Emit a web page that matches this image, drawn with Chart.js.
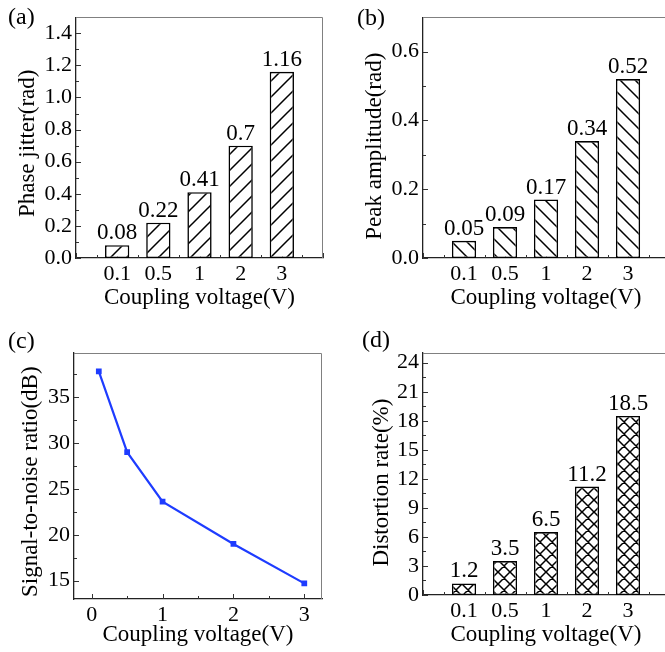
<!DOCTYPE html>
<html>
<head>
<meta charset="utf-8">
<script src="https://cdn.jsdelivr.net/npm/chart.js@4.4.0/dist/chart.umd.min.js"></script>
<style>
  html, body { margin: 0; padding: 0; background: #fff; overflow: hidden; }
  body { width: 665px; height: 652px; position: relative; }
  canvas { position: absolute; }
</style>
</head>
<body>
<canvas id="chartA" width="335" height="320" style="left:0;top:0"></canvas>
<canvas id="chartB" width="345" height="320" style="left:330px;top:0"></canvas>
<canvas id="chartC" width="335" height="332" style="left:0;top:320px"></canvas>
<canvas id="chartD" width="345" height="332" style="left:330px;top:320px"></canvas>
<script>
// Values
const voltageLabels = ['0.1', '0.5', '1', '2', '3'];
const voltageValues = [0.1, 0.5, 1, 2, 3];
const phaseJitter = [0.08, 0.22, 0.41, 0.7, 1.16];
const peakAmplitude = [0.05, 0.09, 0.17, 0.34, 0.52];
const snrValues = [37.8, 29.0, 23.6, 19.0, 14.7];
const distortionRate = [1.2, 3.5, 6.5, 11.2, 18.5];

const SERIF = '"Liberation Serif", "Times New Roman", serif';
Chart.defaults.font.family = SERIF;
Chart.defaults.color = '#000';
Chart.defaults.animation = false;

// Inward major/minor ticks + grey frame on top/right + panel letter
const frameTicks = {
  id: 'frameTicks',
  beforeDatasetsDraw(chart) {
    const { ctx, chartArea: a, scales: { x, y } } = chart;
    ctx.save();
    ctx.strokeStyle = '#333';
    ctx.lineWidth = 1;
    ctx.beginPath();
    [[x, true], [y, false]].forEach(([scale, horiz]) => {
      const major = scale.ticks.map(t => t.value);
      const half = (major[1] - major[0]) / 2;
      const marks = major.map(v => [v, 5])
        .concat(major.map(v => [v + half, 3]), [[major[0] - half, 3]]);
      marks.forEach(([v, len]) => {
        if (v < scale.min - 1e-9 || v > scale.max + 1e-9) return;
        const p = Math.round(scale.getPixelForValue(v)) + 0.5;
        if (horiz) { ctx.moveTo(p, a.bottom); ctx.lineTo(p, a.bottom - len); }
        else { ctx.moveTo(a.left, p); ctx.lineTo(a.left + len, p); }
      });
    });
    ctx.stroke();
    ctx.restore();
  },
  afterDraw(chart, args, opts) {
    const { ctx, chartArea: a } = chart;
    ctx.save();
    ctx.strokeStyle = '#808080';
    ctx.lineWidth = 1;
    ctx.beginPath();
    ctx.moveTo(a.left, Math.round(a.top) + 0.5);
    ctx.lineTo(Math.round(a.right) - 0.5, Math.round(a.top) + 0.5);
    ctx.lineTo(Math.round(a.right) - 0.5, a.bottom);
    ctx.stroke();
    if (opts.label) {
      ctx.font = '24px ' + SERIF;
      ctx.fillStyle = '#000';
      ctx.textAlign = 'left';
      ctx.textBaseline = 'alphabetic';
      ctx.fillText(opts.label, opts.labelX, opts.labelY);
    }
    ctx.restore();
  }
};

// Numbers above bars
const barValues = {
  id: 'barValues',
  defaults: { show: false },
  afterDatasetsDraw(chart, args, opts) {
    if (!opts.show) return;
    const { ctx } = chart;
    const meta = chart.getDatasetMeta(0);
    const data = chart.data.datasets[0].data;
    ctx.save();
    ctx.font = '23px ' + SERIF;
    ctx.fillStyle = '#000';
    ctx.textAlign = 'center';
    ctx.textBaseline = 'alphabetic';
    meta.data.forEach((bar, i) => ctx.fillText(String(data[i].y), bar.x, bar.y - 6));
    ctx.restore();
  }
};

Chart.register(frameTicks, barValues);

function hatch(canvas, size, kind) {
  const c = document.createElement('canvas');
  c.width = c.height = size;
  const g = c.getContext('2d');
  g.fillStyle = '#fff';
  g.fillRect(0, 0, size, size);
  g.strokeStyle = '#000';
  g.lineWidth = 1.5;
  g.beginPath();
  if (kind === '/' || kind === 'x') {
    g.moveTo(-1, size + 1); g.lineTo(size + 1, -1);
    g.moveTo(-2, 2); g.lineTo(2, -2);
    g.moveTo(size - 2, size + 2); g.lineTo(size + 2, size - 2);
  }
  if (kind === '\\' || kind === 'x') {
    g.moveTo(-1, -1); g.lineTo(size + 1, size + 1);
    g.moveTo(-2, size - 2); g.lineTo(2, size + 2);
    g.moveTo(size - 2, -2); g.lineTo(size + 2, 2);
  }
  g.stroke();
  return canvas.getContext('2d').createPattern(c, 'repeat');
}

// trailing no-break spaces nudge the rotated titles down a little, like the original
function axisTitle(text, pad, nudge = 0) {
  return { display: true, text: text + '\u00a0'.repeat(nudge), font: { size: 23 }, padding: pad };
}

function barPanel(id, values, kind, tile, yAxis, box, label) {
  const canvas = document.getElementById(id);
  return new Chart(canvas, {
    type: 'bar',
    data: {
      datasets: [{
        data: values.map((v, i) => ({ x: i + 1, y: v })),
        backgroundColor: hatch(canvas, tile, kind),
        borderColor: '#000',
        borderWidth: 1.6,
        borderSkipped: false,
        barPercentage: 0.59,
        categoryPercentage: 1
      }]
    },
    options: {
      responsive: false,
      events: [],
      layout: { padding: { top: box.top, right: box.right, left: 0, bottom: 0 } },
      plugins: {
        legend: { display: false },
        tooltip: { enabled: false },
        barValues: { show: true },
        frameTicks: label
      },
      scales: {
        x: {
          type: 'linear', min: 0, max: 6, offset: false,
          grid: { display: false, drawTicks: false },
          border: { color: '#222', width: 1.3 },
          ticks: {
            stepSize: 1, padding: 3, maxRotation: 0, autoSkip: false,
            font: { size: 22 },
            callback: v => voltageLabels[v - 1] ?? ''
          },
          title: axisTitle('Coupling voltage(V)', { top: 0, bottom: box.xt }),
          afterFit: s => { s.height = box.xh; }
        },
        y: {
          min: 0, max: yAxis.max,
          grid: { display: false, drawTicks: false },
          border: { color: '#222', width: 1.3 },
          ticks: {
            stepSize: yAxis.step, includeBounds: false, padding: 4,
            font: { size: 22 },
            callback: yAxis.fmt
          },
          title: axisTitle(yAxis.title, { top: box.yt, bottom: 0 }, box.nudge),
          afterFit: s => { s.width = box.yw; }
        }
      }
    }
  });
}

barPanel('chartA', phaseJitter, '/', 16,
  { max: 1.5, step: 0.2, fmt: v => v.toFixed(1), title: 'Phase jitter(rad)' },
  { top: 15, right: 12, xh: 62, yw: 76, xt: 8, yt: 14, nudge: 2 },
  { label: '(a)', labelX: 8, labelY: 24 });

barPanel('chartB', peakAmplitude, '\\', 15,
  { max: 0.7, step: 0.2, fmt: v => v.toFixed(1), title: 'Peak amplitude(rad)' },
  { top: 15, right: 6, xh: 62, yw: 93, xt: 8, yt: 31, nudge: 3 },
  { label: '(b)', labelX: 27, labelY: 25 });

barPanel('chartD', distortionRate, 'x', 12,
  { max: 25, step: 3, fmt: v => String(v), title: 'Distortion rate(%)' },
  { top: 33, right: 6, xh: 57, yw: 93, xt: 3, yt: 38, nudge: 3 },
  { label: '(d)', labelX: 32, labelY: 27 });

// (c) signal-to-noise ratio, line with square markers
const snrBlue = '#1e3cff';
new Chart(document.getElementById('chartC'), {
  type: 'line',
  data: {
    datasets: [{
      data: voltageValues.map((v, i) => ({ x: v, y: snrValues[i] })),
      borderColor: snrBlue,
      backgroundColor: snrBlue,
      borderWidth: 2.2,
      pointStyle: 'rect',
      pointRadius: 2.5,
      tension: 0
    }]
  },
  options: {
    responsive: false,
    events: [],
    layout: { padding: { top: 33, right: 13, left: 0, bottom: 0 } },
    plugins: {
      legend: { display: false },
      tooltip: { enabled: false },
      frameTicks: { label: '(c)', labelX: 8, labelY: 28 }
    },
    scales: {
      x: {
        type: 'linear', min: -0.25, max: 3.25,
        grid: { display: false, drawTicks: false },
        border: { color: '#222', width: 1.3 },
        ticks: { stepSize: 1, includeBounds: false, padding: 3, font: { size: 22 } },
        title: axisTitle('Coupling voltage(V)', { top: 0, bottom: 3 }),
        afterFit: s => { s.height = 53; }
      },
      y: {
        min: 13, max: 39.8,
        grid: { display: false, drawTicks: false },
        border: { color: '#222', width: 1.3 },
        ticks: { stepSize: 5, includeBounds: false, padding: 4, font: { size: 22 } },
        title: axisTitle('Signal-to-noise ratio(dB)', { top: 17, bottom: 0 }, 2),
        afterFit: s => { s.width = 74; }
      }
    }
  }
});
</script>
</body>
</html>
